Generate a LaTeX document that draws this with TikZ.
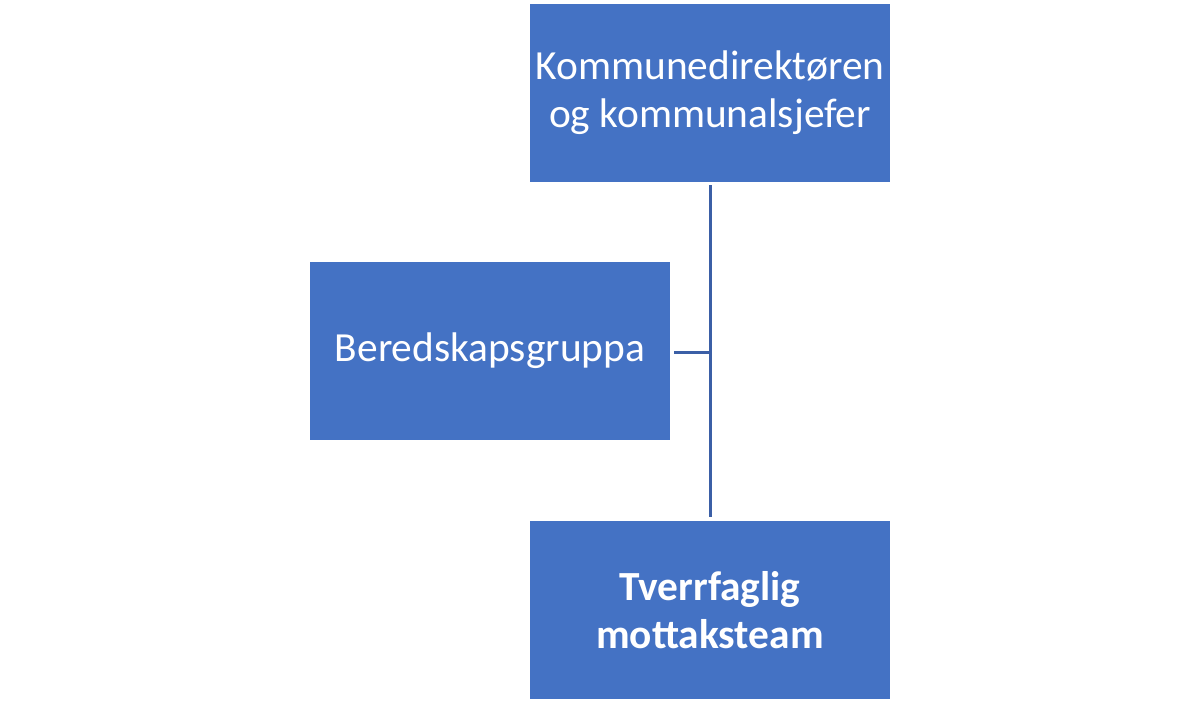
\documentclass[tikz,border=0pt]{standalone}
\usepackage{fontspec}
\setmainfont{Carlito}
\usetikzlibrary{positioning}
\definecolor{boxblue}{HTML}{4472C4}
\definecolor{lineblue}{HTML}{3B5FA6}
\tikzset{
    orgbox/.style={fill=boxblue, text=white, minimum width=180pt, minimum height=89pt,
        inner sep=0pt, align=center, font=\fontsize{20.7}{24}\selectfont},
    link/.style={draw=lineblue, line width=1.5pt}
}

\begin{document}
\begin{tikzpicture}[x=0.5pt, y=-0.5pt]
    \useasboundingbox (0, 0) rectangle (1200, 703);

    \node[orgbox] (leder) at (710, 93) {Kommunedirektøren\\og kommunalsjefer};
    \node[orgbox] (beredskap) at (490, 351) {Beredskapsgruppa};
    \node[orgbox, font=\fontsize{20.7}{24}\selectfont\bfseries] (team) at (710, 610) {Tverrfaglig\\mottaksteam};

    \coordinate (kryss) at (710, 352);

    \draw[link, shorten <=1.5pt, shorten >=2pt] (leder.south) -- (team.north);
    \draw[link, shorten <=2pt] (beredskap.east |- kryss) -- (kryss);
\end{tikzpicture}
\end{document}
